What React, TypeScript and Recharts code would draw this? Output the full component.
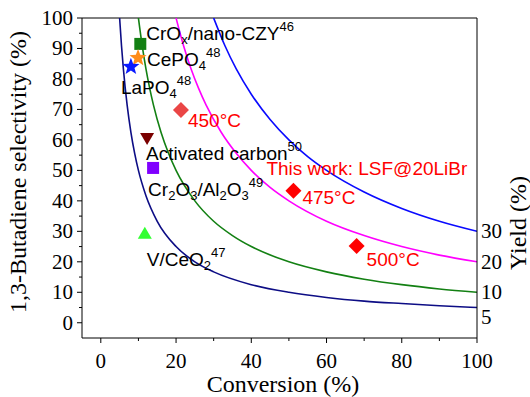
import { ComposedChart, Line, Scatter, XAxis, YAxis, ReferenceLine } from 'recharts';

// iso-yield curves (selectivity)
const YIELD_5 = [
  { x: 5, y: 100 }, { x: 5.5, y: 90.9 }, { x: 6, y: 83.3 }, { x: 7, y: 71.4 }, { x: 8, y: 62.5 },
  { x: 9, y: 55.6 }, { x: 10, y: 50 }, { x: 12, y: 41.7 }, { x: 15, y: 33.3 }, { x: 20, y: 25 },
  { x: 25, y: 20 }, { x: 30, y: 16.7 }, { x: 40, y: 12.5 }, { x: 50, y: 10 }, { x: 60, y: 8.3 },
  { x: 70, y: 7.1 }, { x: 80, y: 6.3 }, { x: 90, y: 5.6 }, { x: 100, y: 5 },
];
const YIELD_10 = [
  { x: 10, y: 100 }, { x: 11, y: 90.9 }, { x: 12, y: 83.3 }, { x: 13, y: 76.9 }, { x: 14, y: 71.4 },
  { x: 16, y: 62.5 }, { x: 18, y: 55.6 }, { x: 20, y: 50 }, { x: 25, y: 40 }, { x: 30, y: 33.3 },
  { x: 35, y: 28.6 }, { x: 40, y: 25 }, { x: 50, y: 20 }, { x: 60, y: 16.7 }, { x: 70, y: 14.3 },
  { x: 80, y: 12.5 }, { x: 90, y: 11.1 }, { x: 100, y: 10 },
];
const YIELD_20 = [
  { x: 20, y: 100 }, { x: 22, y: 90.9 }, { x: 24, y: 83.3 }, { x: 26, y: 76.9 }, { x: 28, y: 71.4 },
  { x: 32, y: 62.5 }, { x: 36, y: 55.6 }, { x: 40, y: 50 }, { x: 45, y: 44.4 }, { x: 50, y: 40 },
  { x: 60, y: 33.3 }, { x: 70, y: 28.6 }, { x: 80, y: 25 }, { x: 90, y: 22.2 }, { x: 100, y: 20 },
];
const YIELD_30 = [
  { x: 30, y: 100 }, { x: 33, y: 90.9 }, { x: 36, y: 83.3 }, { x: 40, y: 75 }, { x: 45, y: 66.7 },
  { x: 50, y: 60 }, { x: 55, y: 54.5 }, { x: 60, y: 50 }, { x: 70, y: 42.9 }, { x: 80, y: 37.5 },
  { x: 90, y: 33.3 }, { x: 100, y: 30 },
];

const NAMES = ['CrOx', 'CePO4', 'LaPO4', 'AC', 'CrAl', 'VCe', '450', '475', '500'];
const CONVERSION = [10.5, 9.9, 8, 12.3, 13.9, 11.7, 21.3, 51.2, 68];
const SELECTIVITY = [91.5, 86.9, 84, 60.3, 50.8, 29.5, 69.8, 43.3, 25.2];

// label text: [segment, kind] where kind is '' | 'sub' | 'sup'
const LABELS: Record<string, [string, string][][]> = {
  CrOx: [[['CrO', ''], ['x', 'sub'], ['/nano-CZY', ''], ['46', 'sup']]],
  CePO4: [[['CePO', ''], ['4', 'sub'], ['48', 'sup']]],
  LaPO4: [[['LaPO', ''], ['4', 'sub'], ['48', 'sup']]],
  AC: [[['Activated carbon', ''], ['50', 'sup']]],
  CrAl: [[['Cr', ''], ['2', 'sub'], ['O', ''], ['3', 'sub'], ['/Al', ''], ['2', 'sub'], ['O', ''], ['3', 'sub'], ['49', 'sup']]],
  VCe: [[['V/CeO', ''], ['2', 'sub'], ['47', 'sup']]],
  '450': [[['450°C', '']]],
  '475': [[['475°C', '']], [['This work: LSF@20LiBr', '']]],
  '500': [[['500°C', '']]],
};

const YL_TICKS = [0, 5, 10, 15, 20, 25, 30, 35, 40, 45, 50, 55, 60, 65, 70, 75, 80, 85, 90, 95, 100];
const X_TICKS = [0, 10, 20, 30, 40, 50, 60, 70, 80, 90, 100];
const YR_TICKS = [5, 10, 20, 30];

const points = NAMES.map((name, i) => ({ name, x: CONVERSION[i], y: SELECTIVITY[i] }));

const MARKER: Record<string, { kind: string; color: string; text: string; offs: number[][] }> = {
  CrOx: { kind: 'square', color: '#138013', text: '#000', offs: [[6, -4]] },
  CePO4: { kind: 'star', color: '#ff8c1a', text: '#000', offs: [[9, 8]] },
  LaPO4: { kind: 'star', color: '#0a1aff', text: '#000', offs: [[-10, 27]] },
  AC: { kind: 'down', color: '#7a0000', text: '#000', offs: [[-1, 21]] },
  CrAl: { kind: 'square', color: '#8000ff', text: '#000', offs: [[-5, 28]] },
  VCe: { kind: 'up', color: '#33ff33', text: '#000', offs: [[2, 33]] },
  '450': { kind: 'diamond', color: '#ea4646', text: '#ff0000', offs: [[7, 17]] },
  '475': { kind: 'diamond', color: '#ff0000', text: '#ff0000', offs: [[9, 13], [-27, -16]] },
  '500': { kind: 'diamond', color: '#ff0000', text: '#ff0000', offs: [[10, 20]] },
};

const SANS = "'Liberation Sans', Arial, sans-serif";
const SERIF = "'Liberation Serif', 'Times New Roman', serif";

function Rich({ x, y, parts, fill }: any) {
  let shift = 0;
  return (
    <text x={x} y={y} fill={fill} style={{ fontFamily: SANS }} fontSize={19}>
      {parts.map(([t, k]: [string, string], i: number) => {
        const target = k === 'sub' ? 4 : k === 'sup' ? -9 : 0;
        const dy = target - shift;
        shift = target;
        return (
          <tspan key={i} dy={dy} fontSize={k ? 13 : 19}>
            {t}
          </tspan>
        );
      })}
    </text>
  );
}

function starPath(cx: number, cy: number, r: number) {
  const pts: string[] = [];
  for (let i = 0; i < 10; i++) {
    const rad = i % 2 === 0 ? r : r * 0.42;
    const a = -Math.PI / 2 + (i * Math.PI) / 5;
    pts.push(`${cx + rad * Math.cos(a)},${cy + rad * Math.sin(a)}`);
  }
  return pts.join(' ');
}

const PointShape = (props: any) => {
  const { cx, cy, payload } = props;
  const m = MARKER[payload.name];
  let mark;
  if (m.kind === 'square') mark = <rect x={cx - 6} y={cy - 6} width={12} height={12} fill={m.color} />;
  else if (m.kind === 'star') mark = <polygon points={starPath(cx, cy, 9)} fill={m.color} />;
  else if (m.kind === 'diamond')
    mark = <polygon points={`${cx},${cy - 8} ${cx + 8},${cy} ${cx},${cy + 8} ${cx - 8},${cy}`} fill={m.color} />;
  else if (m.kind === 'down')
    mark = <polygon points={`${cx - 7},${cy - 6} ${cx + 7},${cy - 6} ${cx},${cy + 6}`} fill={m.color} />;
  else mark = <polygon points={`${cx - 7},${cy + 6} ${cx + 7},${cy + 6} ${cx},${cy - 6}`} fill={m.color} />;
  return (
    <g>
      {mark}
      {LABELS[payload.name].map((parts, i) => (
        <Rich key={i} x={cx + m.offs[i][0]} y={cy + m.offs[i][1]} parts={parts} fill={m.text} />
      ))}
    </g>
  );
};

const LeftTick = ({ x, y, payload }: any) => {
  const major = payload.value % 10 === 0;
  return (
    <g>
      <line x1={x - (major ? 5 : 3)} x2={x} y1={y} y2={y} stroke="#000" strokeWidth={1} />
      {major && (
        <text x={x - 9} y={y + 7} textAnchor="end" style={{ fontFamily: SERIF }} fontSize={21} fill="#000">
          {payload.value}
        </text>
      )}
    </g>
  );
};

const BottomTick = ({ x, y, payload }: any) => {
  const major = payload.value % 20 === 0;
  return (
    <g>
      <line x1={x} x2={x} y1={y} y2={y + (major ? 5 : 3)} stroke="#000" strokeWidth={1} />
      {major && (
        <text x={x} y={y + 30} textAnchor="middle" style={{ fontFamily: SERIF }} fontSize={21} fill="#000">
          {payload.value}
        </text>
      )}
    </g>
  );
};

const RightTick = ({ x, y, payload }: any) => (
  <text x={x + 4} y={y + 7 + (payload.value === 5 ? 9 : 0)} style={{ fontFamily: SERIF }} fontSize={21} fill="#000">
    {payload.value}
  </text>
);

const App = () => {
  return (
    <div style={{ position: 'absolute', left: 0, top: 0, background: '#fff' }}>
      <ComposedChart width={530} height={397} margin={{ top: 18, right: 0, bottom: 0, left: 0 }}>
        <XAxis
          type="number"
          dataKey="x"
          domain={[-5, 100]}
          ticks={X_TICKS}
          interval={0}
          height={59}
          tickSize={0}
          tickMargin={0}
          tickLine={false}
          tick={<BottomTick />}
          stroke="#000"
          allowDataOverflow
          label={() => (
            <text x={283} y={392} textAnchor="middle" style={{ fontFamily: SERIF }} fontSize={24} fill="#000">
              Conversion (%)
            </text>
          )}
        />
        <YAxis
          type="number"
          domain={[-5, 100]}
          ticks={YL_TICKS}
          interval={0}
          width={82}
          tickSize={0}
          tickMargin={0}
          tickLine={false}
          tick={<LeftTick />}
          stroke="#000"
          allowDataOverflow
          label={() => (
            <text
              x={26}
              y={172}
              transform="rotate(-90 26 172)"
              textAnchor="middle"
              style={{ fontFamily: SERIF }}
              fontSize={24}
              fill="#000"
            >
              1,3-Butadiene selectivity (%)
            </text>
          )}
        />
        <YAxis
          yAxisId="r"
          orientation="right"
          type="number"
          domain={[-5, 100]}
          ticks={YR_TICKS}
          interval={0}
          width={53}
          tickSize={0}
          tickMargin={0}
          tickLine={false}
          tick={<RightTick />}
          stroke="#000"
          allowDataOverflow
          label={() => (
            <text
              x={526}
              y={223}
              transform="rotate(-90 526 223)"
              textAnchor="middle"
              style={{ fontFamily: SERIF }}
              fontSize={24}
              fill="#000"
            >
              Yield (%)
            </text>
          )}
        />
        <ReferenceLine y={100} stroke="#000" strokeWidth={1} />
        <Line data={YIELD_5} dataKey="y" type="monotone" stroke="#0d0d85" strokeWidth={1.6} dot={false} isAnimationActive={false} />
        <Line data={YIELD_10} dataKey="y" type="monotone" stroke="#138013" strokeWidth={1.6} dot={false} isAnimationActive={false} />
        <Line data={YIELD_20} dataKey="y" type="monotone" stroke="#ff00ff" strokeWidth={1.6} dot={false} isAnimationActive={false} />
        <Line data={YIELD_30} dataKey="y" type="monotone" stroke="#0a0aff" strokeWidth={1.6} dot={false} isAnimationActive={false} />
        <Scatter data={points} dataKey="y" shape={PointShape} isAnimationActive={false} />
        <Line data={[{ x: 0, y: 0 }]} yAxisId="r" dataKey="y" stroke="none" dot={false} isAnimationActive={false} />
      </ComposedChart>
    </div>
  );
};

export default App;
